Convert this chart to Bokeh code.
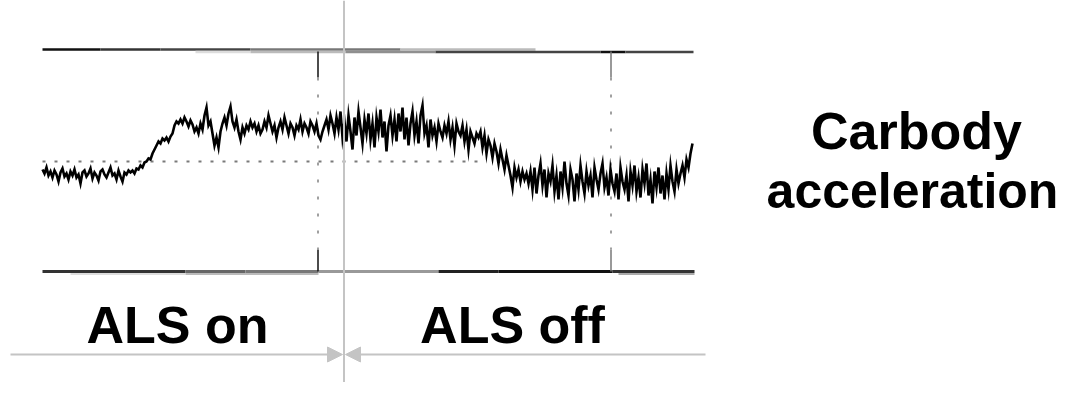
import numpy as np
from bokeh.plotting import figure
from bokeh.models import Range1d, Span, Arrow, NormalHead
from bokeh.core.properties import value
from bokeh.embed import file_html
from bokeh.resources import INLINE

# ---- data: carbody acceleration trace (arbitrary units, frame = +/-110) ----
acc_on_low = [-8, -12, -6, -14, -10, -16, -9, -13, -20, -11, -7, -15, -12, -18, -10, -14, -8, -16, -13, -22,
              -11, -9, -15, -12, -7, -17, -11, -14, -19, -10, -8, -13, -16, -11, -6, -14, -12, -18, -9, -15,
              -20, -11, -13, -9]
acc_on_rise = [-11, -9, -12, -7, -8, -4, -6, -1, 0, 3, 2, 8, 12, 16, 20, 18, 23, 21, 24, 20, 25, 28, 36, 40, 38]
acc_on_high = [42, 38, 44, 40, 35, 41, 37, 30, 34, 28, 38, 32, 46, 54, 36, 40, 28, 16, 24, 14,
               30, 38, 44, 36, 48, 55, 40, 34, 42, 30, 22, 34, 28, 36, 32, 40, 34, 38, 30, 36,
               28, 32, 40, 34, 46, 38, 30, 36, 24, 34, 40, 32, 44, 36, 28, 38, 34, 26, 36, 32,
               42, 30, 38, 34, 28, 40, 36, 30, 38, 26, 22, 30, 36, 42, 32, 46, 38, 28, 44, 32,
               50, 24, 40]
acc_off_high = [20, 46, 30, 12, 44, 26, 50, 34, 18, 42, 28, 48, 22, 38, 14, 44, 30, 52, 24, 40,
                10, 36, 46, 26, 42, 20, 48, 30, 54, 22, 44, 16, 38, 50, 26, 40, 18, 46, 56, 28,
                36, 14, 42, 26, 34, 20, 38, 30, 24, 36, 28, 40, 22, 34, 16, 38, 30, 26, 36, 20,
                32, 12, 30, 24, 18, 28]
acc_off_fall = [24, 30, 14, 26, 8, 22, 16, 4, 18, 10, -2, 12, 2, -8, 6, -4, -14, -26, -6, -16,
                -8, -20, -10, -18, -12, -22]
acc_off_low = [-10, -28, -6, -32, -14, -2, -24, -8, -36, -12, -20, -4, -30, -14, -38, -10, -26, 0, -22, -34,
               -8, -18, -40, -12, -28, -4, -20, -32, -10, -24, -14, -36, -6, -18, -28, -12, -2, -26, -16, -34,
               -8, -22, -30, -12, -38, -6, -20, -28, -14, -40, -10, -24, -4, -30, -16, -36, -8, -22, -2, -34,
               -18, -42, -10, -26, -6, -32, -14, -38, -12, -28, -4, -20, -30, -8, -22, -12]
acc_end = [-4, -16, 2, -6, 8, 18]

section_labels = ["ALS on", "ALS off"]
title_lines = ["Carbody", "acceleration"]

acc = np.array(acc_on_low + acc_on_rise + acc_on_high + acc_off_high + acc_off_fall + acc_off_low + acc_end, dtype=float)
t = np.linspace(0.0, 65.0, len(acc))   # time axis, 0..65 s

# ---- figure: 10 px per second, 1 px per acceleration unit ----
W, H = 1062, 382
p = figure(width=W, height=H, output_backend="svg", toolbar_location=None,
           x_range=Range1d(-4.2, -4.2 + W / 10.0), y_range=Range1d(161 - H, 161),
           min_border=0)
p.axis.visible = False
p.grid.visible = False
p.outline_line_color = None
p.background_fill_color = "white"
p.border_fill_color = "white"

FONT = value("Liberation Sans")

# frame lines (scanned look: two tone rows)
top_rows = [((0, 5.8), "#111111"), ((5.8, 11.8), "#333333"), ((11.8, 20.8), "#444444"),
            ((20.8, 35.8), "#777777"), ((35.8, 49.3), "#bbbbbb")]
top_rows2 = [((15.3, 20.8), "#dddddd"), ((20.8, 30.3), "#bbbbbb"), ((30.3, 39.3), "#8f8f8f"),
             ((39.3, 55.8), "#444444"), ((55.8, 58.3), "#111111"), ((58.3, 65.1), "#444444")]
for (a, b), c in top_rows:
    p.line([a, b], [112, 112], line_color=c, line_width=2.5)
for (a, b), c in top_rows2:
    p.line([a, b], [109.5, 109.5], line_color=c, line_width=2.5)

bot_rows = [((0, 14.3), "#333333"), ((14.3, 20.3), "#666666"), ((20.3, 27.6), "#777777"),
            ((27.6, 39.6), "#999999"), ((39.6, 45.6), "#222222"), ((45.6, 57.0), "#111111"),
            ((57.0, 65.2), "#333333")]
bot_rows2 = [((2.8, 14.3), "#dddddd"), ((14.3, 27.6), "#bbbbbb"), ((57.6, 65.2), "#aaaaaa")]
for (a, b), c in bot_rows:
    p.line([a, b], [-110, -110], line_color=c, line_width=3)
for (a, b), c in bot_rows2:
    p.line([a, b], [-112.5, -112.5], line_color=c, line_width=2)

# vertical marker lines (solid ends, dotted middle)
for xm, col in [(27.55, "#111111"), (56.85, "#777777")]:
    p.line([xm, xm], [110, 84], line_color=col, line_width=1.5)
    p.line([xm, xm], [-88, -110], line_color=col, line_width=1.5)
    p.line([xm, xm], [84, -88], line_color="#808080", line_width=1.5, line_dash="3 14")

# zero reference (dotted)
p.line([0, 43.5], [0, 0], line_color="#7a7a7a", line_width=2, line_dash="3 9")

# the acceleration trace
p.line(t, acc, line_color="#000000", line_width=2.6, line_join="miter")

# switch-over line
p.add_layout(Span(location=30.15, dimension="height", line_color="#c4c4c4", line_width=2))

# section arrows
for xs, xe in [(-3.2, 30.0), (66.3, 30.3)]:
    p.add_layout(Arrow(x_start=xs, y_start=-193, x_end=xe, y_end=-193, line_color="#c4c4c4", line_width=2,
                       end=NormalHead(size=15, fill_color="#c4c4c4", line_color="#c4c4c4")))

# section labels
p.text(x=[13.5, 47.0], y=[-163, -163], text=section_labels, text_font=FONT, text_font_style="bold",
       text_font_size="52px", text_align="center", text_baseline="alphabetic", text_color="black")

# right-hand title (two lines)
p.text(x=[87.4], y=[31], text=title_lines[:1], text_font=FONT, text_font_style="bold",
       text_font_size="52px", text_align="center", text_baseline="alphabetic", text_color="black")
p.text(x=[87.0], y=[-29], text=title_lines[1:], text_font=FONT, text_font_style="bold",
       text_font_size="50px", text_align="center", text_baseline="alphabetic", text_color="black")

open("out.html", "w").write(file_html(p, INLINE))
